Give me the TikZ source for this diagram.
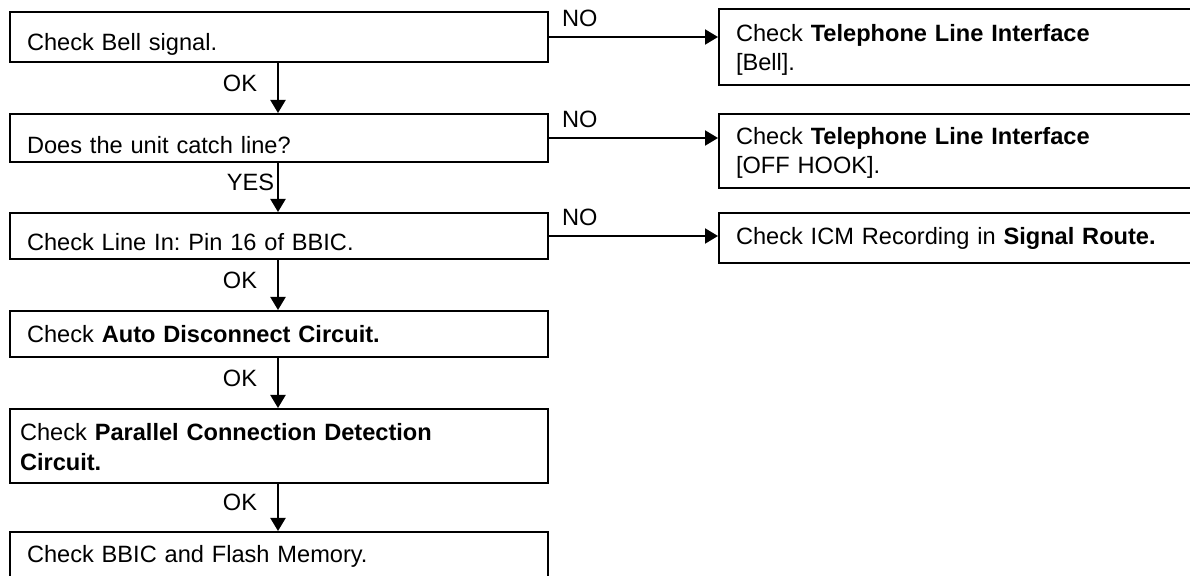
\documentclass[tikz,border=0pt]{standalone}
\usepackage{fontspec}
\setmainfont{Liberation Sans}
\usetikzlibrary{arrows.meta}
\frenchspacing

\begin{document}
\begin{tikzpicture}[x=0.5pt,y=-0.5pt,font=\fontsize{11.8}{14.65}\selectfont,
    stepbox/.style={draw,line width=1pt,anchor=north west,align=left,
        inner xsep=8.5pt,inner ysep=0pt,minimum width=269pt,text width=252pt},
    fixbox/.style={stepbox,minimum width=238.5pt,text width=221.5pt},
    textgap/.style 2 args={text height=#1,text depth=#2},
    flow/.style={line width=1pt,-{Triangle[length=6.5pt,width=7.5pt]}},
    answer/.style={inner sep=0pt}]
    \useasboundingbox (0,0) rectangle (1190,576);
    \coordinate (spine) at (278,0);
    % main column
    \node[stepbox,textgap={19.5pt}{5.5pt}] (bell) at (9,11) {Check Bell signal.};
    \node[stepbox,textgap={19.75pt}{4.25pt}] (catch) at (9,113) {Does the unit catch line?};
    \node[stepbox,textgap={19pt}{4pt}] (linein) at (9,212) {Check Line In: Pin 16 of BBIC.};
    \node[stepbox,textgap={15.75pt}{7.25pt}] (autodisc) at (9,310) {Check \textbf{Auto Disconnect Circuit.}};
    \node[stepbox,textgap={16pt}{21pt},inner xsep=5pt,text width=259pt] (parallel) at (9,408)
        {Check \textbf{Parallel Connection Detection}\\\textbf{Circuit.}};
    \node[stepbox,textgap={15.5pt}{7.5pt}] (bbic) at (9,531) {Check BBIC and Flash Memory.};
    % NO branch
    \node[fixbox,textgap={16pt}{22pt}] (tlibell) at (718,8.5) {Check \textbf{Telephone Line Interface}\\{}[Bell].};
    \node[fixbox,textgap={15.3pt}{21.7pt}] (tlihook) at (718,112.7) {Check \textbf{Telephone Line Interface}\\{}[OFF HOOK].};
    \node[fixbox,textgap={16pt}{9.25pt}] (icm) at (718,211.7) {Check ICM Recording in \textbf{Signal Route.}};

    \draw[flow] (bell.south -| spine) -- node[answer,pos=0.4,anchor=east,xshift=-10pt] {OK} (catch.north -| spine);
    \draw[flow] (catch.south -| spine) -- node[answer,pos=0.4,anchor=east,xshift=-1.5pt] {YES} (linein.north -| spine);
    \draw[flow] (linein.south -| spine) -- node[answer,pos=0.4,anchor=east,xshift=-10pt] {OK} (autodisc.north -| spine);
    \draw[flow] (autodisc.south -| spine) -- node[answer,pos=0.4,anchor=east,xshift=-10pt] {OK} (parallel.north -| spine);
    \draw[flow] (parallel.south -| spine) -- node[answer,pos=0.4,anchor=east,xshift=-10pt] {OK} (bbic.north -| spine);

    \draw[flow] (bell.east) -- (bell.east -| tlibell.west) node[answer,pos=0,anchor=south west,xshift=6pt,yshift=4.5pt] {NO};
    \draw[flow] (catch.east) -- (catch.east -| tlihook.west) node[answer,pos=0,anchor=south west,xshift=6pt,yshift=4.5pt] {NO};
    \draw[flow] (linein.east) -- (linein.east -| icm.west) node[answer,pos=0,anchor=south west,xshift=6pt,yshift=4.5pt] {NO};
\end{tikzpicture}
\end{document}
